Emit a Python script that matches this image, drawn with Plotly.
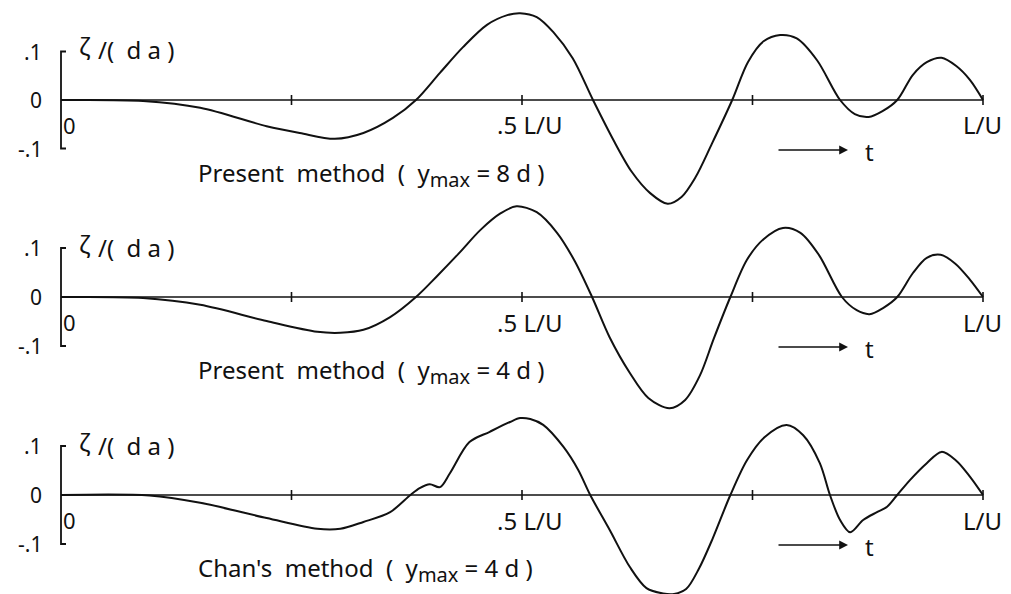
import plotly.graph_objects as go

# ---- time axis (fraction of L/U) and response ζ/(da) for each run ----
t_present_8d = [0.0, 0.089, 0.151, 0.223, 0.259, 0.297, 0.328, 0.360, 0.385, 0.411, 0.436,
                0.462, 0.484, 0.498, 0.516, 0.534, 0.555, 0.577, 0.599, 0.619, 0.639,
                0.658, 0.673, 0.688, 0.706, 0.728, 0.745, 0.762, 0.780, 0.798, 0.820,
                0.845, 0.861, 0.876, 0.891, 0.907, 0.924, 0.939, 0.955, 0.971, 0.986, 1.0]
zeta_present_8d = [0.0, -0.002, -0.016, -0.054, -0.068, -0.080, -0.068, -0.037, 0.0, 0.056, 0.109,
                   0.155, 0.175, 0.179, 0.171, 0.140, 0.086, 0.0, -0.082, -0.148, -0.192,
                   -0.214, -0.200, -0.160, -0.090, 0.0, 0.078, 0.121, 0.134, 0.127, 0.082,
                   0.0, -0.029, -0.035, -0.023, 0.0, 0.052, 0.078, 0.087, 0.070, 0.041, 0.0]

t_present_4d = [0.0, 0.089, 0.151, 0.223, 0.278, 0.303, 0.328, 0.357, 0.385, 0.408, 0.431,
                0.455, 0.477, 0.494, 0.516, 0.538, 0.557, 0.576, 0.595, 0.617, 0.637,
                0.660, 0.677, 0.693, 0.708, 0.726, 0.744, 0.762, 0.783, 0.802, 0.822,
                0.847, 0.863, 0.877, 0.892, 0.907, 0.924, 0.939, 0.954, 0.970, 0.986, 1.0]
zeta_present_4d = [0.0, -0.002, -0.016, -0.049, -0.071, -0.073, -0.067, -0.041, 0.0, 0.043, 0.088,
                   0.137, 0.171, 0.185, 0.173, 0.131, 0.074, 0.0, -0.082, -0.155, -0.206,
                   -0.227, -0.210, -0.160, -0.085, 0.0, 0.076, 0.118, 0.141, 0.131, 0.086,
                   0.0, -0.027, -0.035, -0.022, 0.0, 0.049, 0.080, 0.086, 0.068, 0.035, 0.0]

t_chan_4d = [0.0, 0.096, 0.151, 0.223, 0.278, 0.303, 0.328, 0.357, 0.379, 0.389, 0.400,
             0.411, 0.422, 0.443, 0.465, 0.487, 0.498, 0.509, 0.523, 0.545, 0.561,
             0.574, 0.595, 0.617, 0.635, 0.653, 0.665, 0.678, 0.692, 0.707, 0.726,
             0.744, 0.763, 0.787, 0.805, 0.823, 0.834, 0.845, 0.856, 0.870, 0.885,
             0.896, 0.907, 0.921, 0.939, 0.955, 0.971, 0.986, 1.0]
zeta_chan_4d = [0.0, -0.001, -0.016, -0.047, -0.069, -0.069, -0.055, -0.035, 0.0, 0.014, 0.022,
                0.016, 0.045, 0.108, 0.129, 0.149, 0.157, 0.155, 0.143, 0.098, 0.051,
                0.0, -0.071, -0.147, -0.190, -0.201, -0.202, -0.192, -0.150, -0.088, 0.0,
                0.071, 0.118, 0.143, 0.122, 0.065, 0.0, -0.051, -0.076, -0.051, -0.035,
                -0.024, 0.0, 0.031, 0.065, 0.088, 0.070, 0.037, 0.0]

SUB = "<sub><span style='font-size:20px'>max</span></sub>"
panel_titles = [f"Present  method  (  y{SUB} = 8 d )",
                f"Present  method  (  y{SUB} = 4 d )",
                f"Chan's  method  (  y{SUB} = 4 d )"]
y_tick_values = [0.1, 0.0, -0.1]
y_tick_labels = [".1", "0", "-.1"]
x_tick_values = [0.25, 0.5, 0.75, 1.0]

series = [(t_present_8d, zeta_present_8d),
          (t_present_4d, zeta_present_4d),
          (t_chan_4d, zeta_chan_4d)]

# ---- page geometry ----
W, H = 1011, 594
X0_PX, X1_PX = 61, 983            # pixel columns of t = 0 and t = L/U
ZERO_PX = [100, 297, 495]         # pixel rows of the zero line in each strip
PX_PER_UNIT = [485, 490, 490]     # vertical pixels per unit of ζ/(da)

span = X1_PX - X0_PX
x_range = [-X0_PX / span, (W - X0_PX) / span]

INK = "#111111"
FAMILY = "Noto Sans, DejaVu Sans, sans-serif"
FONT = dict(family=FAMILY, size=24, color=INK)
TICK_FONT = dict(family=FAMILY, size=21, color=INK)


def px(x):
    return x / W


def py(y):
    return 1 - y / H


fig = go.Figure()
shapes, annotations = [], []
yrefs = ["y", "y2", "y3"]

for i, ((t, z), yref) in enumerate(zip(series, yrefs)):
    zero = ZERO_PX[i]
    dy = zero - ZERO_PX[0]

    fig.add_trace(go.Scatter(
        x=t, y=z, yaxis=yref, mode="lines",
        line=dict(color=INK, width=2, shape="spline", smoothing=0.9),
        hoverinfo="skip", showlegend=False))

    # zero line with its ticks
    shapes.append(dict(type="line", xref="x", yref=yref, x0=0, x1=1, y0=0, y1=0,
                       line=dict(color=INK, width=1.6)))
    for xv in x_tick_values:
        shapes.append(dict(type="line", xref="x", yref=yref, x0=xv, x1=xv,
                           ysizemode="pixel", yanchor=0, y0=-5, y1=5,
                           line=dict(color=INK, width=1.6)))

    # bracket-style ordinate from -.1 to .1
    serif = 5 / span
    shapes.append(dict(type="path", xref="x", yref=yref,
                       path=f"M {serif},0.1 L 0,0.1 L 0,-0.1 L {serif},-0.1",
                       line=dict(color=INK, width=1.8)))

    for v, lab in zip(y_tick_values, y_tick_labels):
        annotations.append(dict(text=lab, xref="paper", yref=yref, x=px(44), y=v,
                                xanchor="right", yanchor="middle", showarrow=False,
                                font=TICK_FONT))

    # ordinate label ζ/(da)
    annotations.append(dict(text="ζ", xref="paper", yref="paper", x=px(77), y=py(46 + dy),
                            xanchor="left", yanchor="middle", showarrow=False,
                            font=dict(FONT, size=24)))
    annotations.append(dict(text="/(  d a )", xref="paper", yref="paper", x=px(96),
                            y=py(50 + dy), xanchor="left", yanchor="middle",
                            showarrow=False, font=FONT))

    # abscissa labels
    annotations.append(dict(text="0", xref="paper", yref="paper", x=px(61), y=py(125 + dy),
                            xanchor="left", yanchor="middle", showarrow=False,
                            font=dict(FONT, size=22)))
    annotations.append(dict(text=".5 L/U", xref="paper", yref="paper", x=px(529),
                            y=py(125 + dy), xanchor="center", yanchor="middle",
                            showarrow=False, font=FONT))
    annotations.append(dict(text="L/U", xref="paper", yref="paper", x=px(982),
                            y=py(125 + dy), xanchor="center", yanchor="middle",
                            showarrow=False, font=FONT))

    # time arrow
    annotations.append(dict(text="", xref="paper", yref="paper", x=px(848), y=py(150 + dy),
                            ax=-71, ay=0, axref="pixel", ayref="pixel",
                            showarrow=True, arrowhead=2, arrowsize=1.1, arrowwidth=1.6,
                            arrowcolor=INK))
    annotations.append(dict(text="t", xref="paper", yref="paper", x=px(869), y=py(151 + dy),
                            xanchor="center", yanchor="middle", showarrow=False, font=FONT))

    # strip caption
    annotations.append(dict(text=panel_titles[i], xref="paper", yref="paper", x=px(196),
                            y=py(174 + dy), xanchor="left", yanchor="middle",
                            showarrow=False, font=FONT))

layout_axes = {}
for i, name in enumerate(["yaxis", "yaxis2", "yaxis3"]):
    k = PX_PER_UNIT[i]
    zero = ZERO_PX[i]
    ax = dict(range=[(zero - H) / k, zero / k], domain=[0, 1], visible=False, fixedrange=True)
    if i > 0:
        ax["overlaying"] = "y"
    layout_axes[name] = ax

fig.update_layout(
    width=W, height=H,
    margin=dict(l=0, r=0, t=0, b=0),
    paper_bgcolor="white", plot_bgcolor="white",
    xaxis=dict(range=x_range, domain=[0, 1], visible=False, fixedrange=True),
    shapes=shapes, annotations=annotations,
    showlegend=False,
    **layout_axes,
)

fig.write_html("out.html")
